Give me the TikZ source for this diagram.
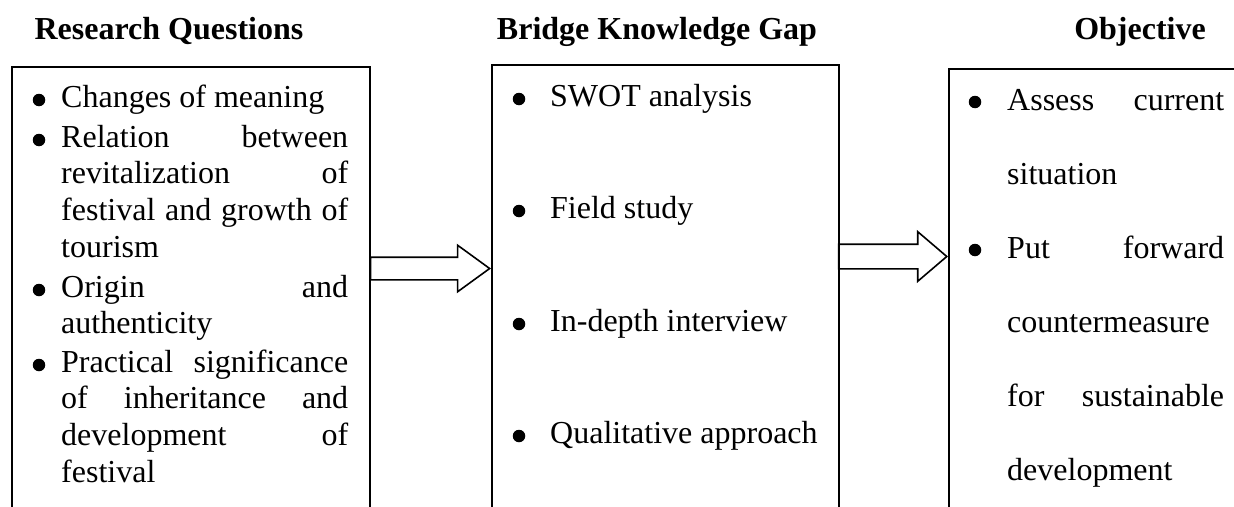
\documentclass[tikz,border=0pt]{standalone}
\usepackage{fontspec}
\setmainfont{Liberation Serif}
\usetikzlibrary{shapes.arrows}

\tikzset{
	box/.style={draw, line width=1.5pt, anchor=north west, inner sep=0pt, minimum height=520pt},
	title/.style={font=\bfseries\fontsize{32}{36.8}\selectfont, anchor=base, inner sep=0pt},
	itemtext/.style={anchor=base west, inner sep=0pt, text width=#1, align=justify},
	itemtext/.default=287pt,
	oneline/.style={anchor=base west, inner sep=0pt},
	dot/.style={circle, fill, inner sep=0pt, minimum size=12.5pt},
	blockarrow/.style={draw, single arrow, line width=1.6pt, inner xsep=0pt, anchor=tip}
}

\begin{document}
\begin{tikzpicture}[x=1pt, y=-1pt, font=\fontsize{32}{36.8}\selectfont]
	\useasboundingbox (0,0) rectangle (1234,506);
	\clip (0,0) rectangle (1234,506);
	% titles
	\node[title] (rqtitle) at (169,39) {Research Questions};
	\node[title] (bktitle) at (657,39) {Bridge Knowledge Gap};
	\node[title] (obtitle) at (1140,39) {Objective};
	% boxes, open at the bottom
	\node[box, minimum width=358pt] (rqbox) at (11,66) {};
	\node[box, minimum width=347pt] (bkbox) at (491,64) {};
	\node[box, minimum width=400pt] (obbox) at (948,68) {};
	% research questions
	\node[dot] (rqd1) at (39,100) {};
	\node[itemtext] (rq1) at (61,107) {Changes of meaning};
	\node[dot] (rqd2) at (39,140) {};
	\node[itemtext] (rq2) at (61,147) {Relation between\linebreak revitalization of\linebreak festival and growth of\linebreak tourism};
	\node[dot] (rqd3) at (39,290) {};
	\node[itemtext] (rq3) at (61,297) {Origin and\linebreak authenticity};
	\node[dot] (rqd4) at (39,365) {};
	\node[itemtext] (rq4) at (61,372) {Practical significance\linebreak of inheritance and\linebreak development of\linebreak festival};
	% bridge knowledge gap
	\node[dot] (bkd1) at (519,99) {};
	\node[oneline] (bk1) at (550,106) {SWOT analysis};
	\node[dot] (bkd2) at (519,211) {};
	\node[oneline] (bk2) at (550,218) {Field study};
	\node[dot] (bkd3) at (519,324) {};
	\node[oneline] (bk3) at (550,331) {In-depth interview};
	\node[dot] (bkd4) at (519,436) {};
	\node[oneline] (bk4) at (550,443) {Qualitative approach};
	% objective
	\begin{scope}[font=\fontsize{32}{74}\selectfont]
		\node[dot] (obd1) at (975,102) {};
		\node[itemtext=217pt] (ob1) at (1007,110) {Assess current\linebreak situation};
		\node[dot] (obd2) at (975,250) {};
		\node[itemtext=217pt] (ob2) at (1007,258) {Put forward\linebreak countermeasure\linebreak for sustainable\linebreak development};
	\end{scope}
	% arrows
	\node[blockarrow, inner ysep=10.5pt, minimum height=119pt, single arrow head extend=12pt, single arrow tip angle=72] (arr1) at (bkbox.west |- 0,268.5) {};
	\node[blockarrow, inner ysep=11.5pt, minimum height=108pt, single arrow head extend=12.5pt, single arrow tip angle=81] (arr2) at (obbox.west |- 0,256.5) {};
\end{tikzpicture}
\end{document}
